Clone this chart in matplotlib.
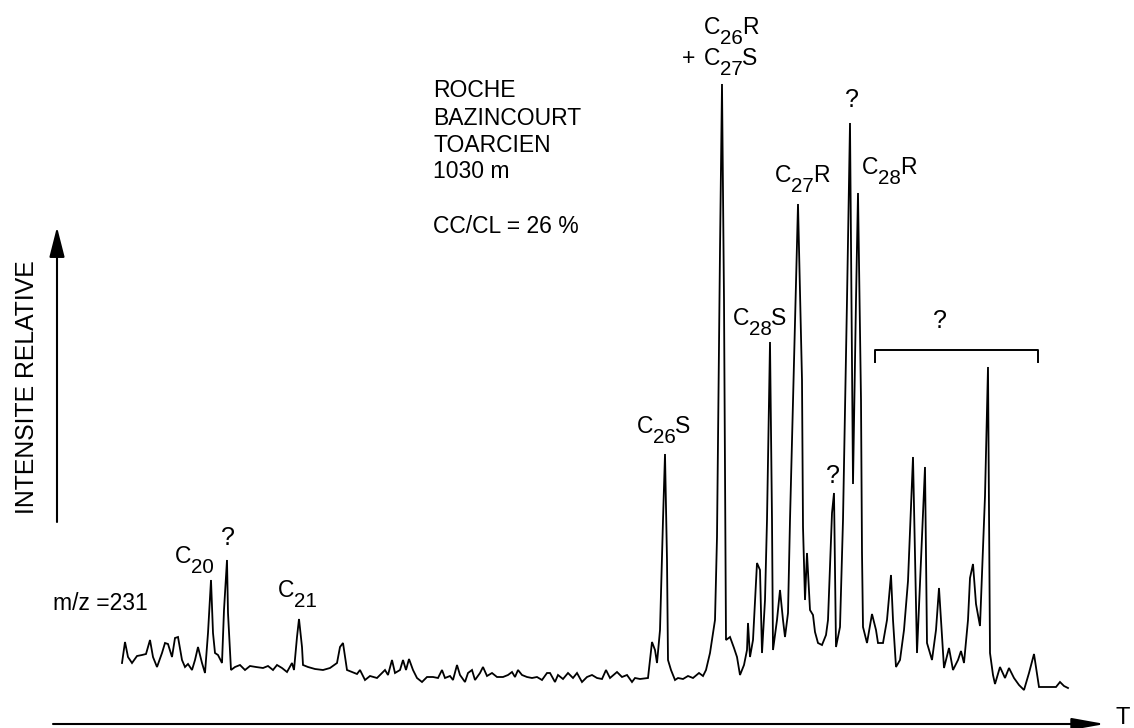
"""m/z 231 fragmentogram, Roche Bazincourt (Toarcien, 1030 m)."""

import matplotlib.pyplot as plt
import numpy as np

plt.rcParams.update({"font.family": ["Liberation Sans", "DejaVu Sans"]})

# retention (arbitrary units) / relative intensity
rt_early = [122, 125, 128, 132, 137, 142, 146, 150, 153, 157, 162, 165, 168, 172, 175,
            178, 182, 185, 188, 192, 195, 198, 202, 205, 208, 211, 213, 215, 218, 222,
            224, 227, 228, 231, 235, 240, 245, 250, 256, 263, 268, 273, 277, 282, 287,
            292, 294, 297, 299, 302, 303, 308, 315, 323, 330, 337, 340, 343, 347, 352,
            357, 360, 365, 370, 377, 382, 385, 388, 392, 395, 400, 403, 406, 409, 413,
            417, 422, 427, 433, 438, 442, 445, 450, 453, 457, 460, 465, 468, 472, 475,
            480, 483, 487, 492, 497, 503, 508, 512, 515, 518, 522, 527, 532, 537, 542,
            547, 550, 555, 558, 563, 568, 573, 577, 582, 587, 592, 597, 602, 606, 610,
            617, 622, 627, 632, 635, 640, 648]
sig_early = [27, 48, 33, 27, 34, 35, 36, 50, 33, 23, 37, 47, 46, 33, 52,
             53, 30, 23, 26, 20, 30, 43, 27, 17, 57, 110, 57, 37, 35, 27,
             80, 130, 77, 20, 23, 25, 20, 24, 23, 22, 24, 20, 25, 22, 18,
             27, 20, 53, 71, 43, 25, 23, 21, 20, 22, 27, 43, 47, 20, 18,
             16, 20, 10, 14, 12, 17, 20, 15, 30, 17, 20, 30, 20, 31, 20,
             12, 8, 13, 13, 12, 20, 12, 14, 10, 25, 15, 8, 17, 20, 10,
             17, 23, 14, 17, 13, 13, 15, 18, 13, 20, 15, 13, 12, 13, 10,
             17, 17, 8, 15, 11, 17, 12, 17, 8, 13, 15, 12, 11, 20, 12,
             18, 13, 15, 8, 12, 11, 12]

rt_late = [650, 652, 655, 657, 660, 663, 665, 667, 668, 671, 675, 678, 683, 688, 693,
           699, 703, 706, 710, 715, 717, 720, 722, 724, 726, 730, 734, 737, 740, 744,
           747, 748, 750, 753, 757, 760, 762, 765, 767, 770, 772, 773, 777, 780, 783,
           785, 788, 790, 793, 798, 802, 803, 805, 807, 810, 813, 815, 818, 822, 826,
           828, 832, 834, 836, 840, 843, 847, 850, 853, 856, 858, 861, 862, 863, 867,
           872, 876, 878, 883, 887, 891, 893, 896, 900, 904, 908, 913, 917, 921, 925,
           927, 932, 936, 939, 944, 949, 953, 958, 961, 964, 968, 970, 973, 976, 980,
           985, 988, 990, 993, 995, 1000, 1005, 1009, 1014, 1019, 1024, 1029, 1034, 1039, 1047,
           1056, 1060, 1064, 1068]
sig_late = [30, 48, 40, 27, 60, 170, 236, 130, 30, 20, 10, 12, 11, 14, 12,
            17, 14, 20, 37, 70, 153, 440, 606, 390, 50, 53, 42, 33, 15, 25,
            40, 67, 33, 50, 127, 120, 37, 90, 170, 348, 170, 40, 70, 100, 70,
            53, 77, 170, 290, 486, 310, 163, 90, 137, 80, 75, 58, 47, 45, 55,
            70, 177, 197, 43, 63, 170, 390, 567, 206, 390, 497, 290, 137, 63, 47,
            76, 60, 47, 47, 70, 115, 70, 23, 30, 60, 109, 233, 37, 130, 223,
            47, 30, 60, 102, 22, 42, 20, 30, 39, 27, 70, 112, 126, 86, 64,
            194, 323, 37, 15, 6, 23, 12, 22, 12, 5, 0, 17, 36, 3, 3,
            3, 8, 4, 2]

rt = np.array(rt_early + rt_late)
signal = np.array(sig_early + sig_late)

FS = 16.5


def chem(ax, x, y, head, sub, tail=""):
    """Formula label with a near-full-size subscript, e.g. C26R."""
    t = ax.text(x, y, head, fontsize=FS, ha="left", va="baseline")
    s = ax.annotate(sub, xy=(1, 0), xycoords=t, xytext=(0, -6.5),
                    textcoords="offset points", fontsize=FS * 0.9,
                    ha="left", va="bottom")
    if tail:
        ax.annotate(tail, xy=(1, 0), xycoords=(s, t), xytext=(-1, 0),
                    textcoords="offset points", fontsize=FS,
                    ha="left", va="bottom")


fig = plt.figure(figsize=(11.34, 7.28), dpi=100)
ax = fig.add_axes([0, 0, 1, 1])
ax.set_xlim(0, 1134)
ax.set_ylim(-38, 690)
ax.axis("off")

ax.plot(rt, signal, color="black", lw=1.3, solid_joinstyle="miter")

# axes drawn as arrows
ax.annotate("", xy=(57, 463), xytext=(57, 168),
            arrowprops=dict(arrowstyle="-|>,head_length=18.5,head_width=4.7",
                            mutation_scale=1, lw=1.5, color="black",
                            shrinkA=0, shrinkB=0))
ax.annotate("", xy=(1105, -34), xytext=(53, -34),
            arrowprops=dict(arrowstyle="-|>,head_length=20,head_width=3.6",
                            mutation_scale=1, lw=1.5, color="black",
                            shrinkA=0, shrinkB=0))
ax.text(1123, -28, "T", fontsize=17, ha="center", va="center")
ax.text(27, 303, "INTENSITE RELATIVE", fontsize=17.8, rotation=90,
        ha="center", va="center")
ax.text(53, 87, "m/z =231", fontsize=16.5, ha="left", va="center")

# sample block
for line, yb in zip(["ROCHE", "BAZINCOURT", "TOARCIEN", "1030 m", "CC/CL = 26 %"],
                    [593, 565, 538, 512, 457]):
    ax.text(433, yb, line, fontsize=FS, ha="left", va="baseline")

# peak labels
chem(ax, 175, 127, "C", "20")
chem(ax, 278, 93, "C", "21")
chem(ax, 637, 257, "C", "26", "S")
chem(ax, 733, 365, "C", "28", "S")
chem(ax, 775, 508, "C", "27", "R")
chem(ax, 862, 516, "C", "28", "R")
chem(ax, 704, 656, "C", "26", "R")
chem(ax, 704, 625, "C", "27", "S")
ax.text(689, 625, "+", fontsize=FS, ha="center", va="baseline")

for x, y in [(228, 152), (852, 590), (833, 214), (940, 369)]:
    ax.text(x, y, "?", fontsize=18, ha="center", va="center")

# bracket over the unknown group
ax.plot([875, 875, 1038, 1038], [328, 340, 340, 328], color="black", lw=1.4)

fig.savefig("out.png", dpi=100)
